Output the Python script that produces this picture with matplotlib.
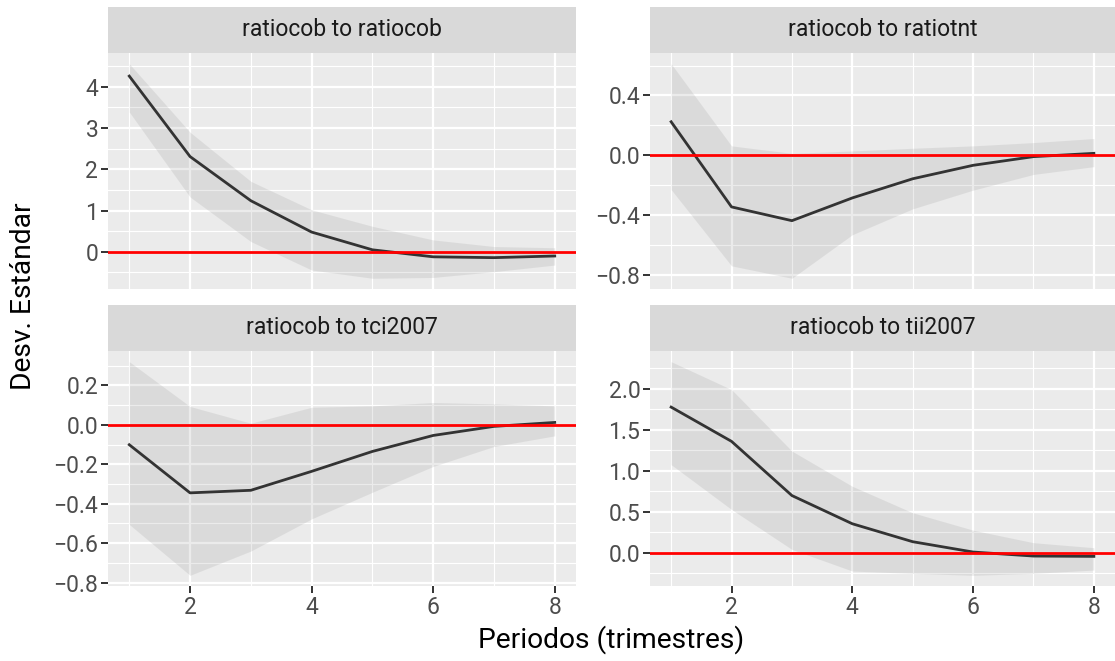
import numpy as np
import matplotlib.pyplot as plt
from matplotlib.ticker import FixedLocator

plt.rcParams['font.family'] = ['Roboto', 'DejaVu Sans']

periodos = [1, 2, 3, 4, 5, 6, 7, 8]
titulos = ['ratiocob to ratiocob', 'ratiocob to ratiotnt',
           'ratiocob to tci2007', 'ratiocob to tii2007']

# respuesta impulso y bandas
irf_ratiocob = [4.26, 2.31, 1.24, 0.48, 0.05, -0.12, -0.14, -0.10]
up_ratiocob = [4.56, 2.90, 1.71, 1.02, 0.62, 0.29, 0.13, 0.10]
lo_ratiocob = [3.39, 1.33, 0.25, -0.44, -0.64, -0.62, -0.48, -0.32]

irf_ratiotnt = [0.224, -0.345, -0.437, -0.285, -0.157, -0.067, -0.009, 0.013]
up_ratiotnt = [0.612, 0.063, 0.013, 0.029, 0.047, 0.063, 0.085, 0.112]
lo_ratiotnt = [-0.229, -0.739, -0.822, -0.531, -0.358, -0.233, -0.128, -0.076]

irf_tci2007 = [-0.101, -0.345, -0.332, -0.236, -0.135, -0.054, -0.008, 0.012]
up_tci2007 = [0.320, 0.093, 0.008, 0.089, 0.096, 0.113, 0.106, 0.096]
lo_tci2007 = [-0.505, -0.763, -0.640, -0.477, -0.342, -0.211, -0.110, -0.056]

irf_tii2007 = [1.776, 1.358, 0.697, 0.353, 0.134, 0.008, -0.041, -0.045]
up_tii2007 = [2.33, 1.99, 1.24, 0.81, 0.487, 0.275, 0.122, 0.061]
lo_tii2007 = [1.074, 0.527, 0.040, -0.224, -0.252, -0.276, -0.252, -0.212]

yticks_ratiocob = [0, 1, 2, 3, 4]
yticks_ratiotnt = [-0.8, -0.4, 0.0, 0.4]
yticks_tci2007 = [-0.8, -0.6, -0.4, -0.2, 0.0, 0.2]
yticks_tii2007 = [0.0, 0.5, 1.0, 1.5, 2.0]

series = [
    (irf_ratiocob, lo_ratiocob, up_ratiocob, yticks_ratiocob, '{:.0f}'),
    (irf_ratiotnt, lo_ratiotnt, up_ratiotnt, yticks_ratiotnt, '{:.1f}'),
    (irf_tci2007, lo_tci2007, up_tci2007, yticks_tci2007, '{:.1f}'),
    (irf_tii2007, lo_tii2007, up_tii2007, yticks_tii2007, '{:.1f}'),
]

W, H = 1115, 661
fig = plt.figure(figsize=(W / 100, H / 100), dpi=100)

# posiciones en pixeles: (x0, x1) de columnas, (strip_top, panel_top, panel_bottom) de filas
cols = [(108, 576), (650, 1115)]
rows = [(7, 53, 289), (305, 351, 586)]

x = np.array(periodos)
for i, (irf, lo, up, yt, fmt) in enumerate(series):
    c0, c1 = cols[i % 2]
    s0, p0, p1 = rows[i // 2]

    ax = fig.add_axes([c0 / W, 1 - p1 / H, (c1 - c0) / W, (p1 - p0) / H])
    ax.set_facecolor('#EBEBEB')
    for sp in ax.spines.values():
        sp.set_visible(False)

    ax.fill_between(x, lo, up, color='#7F7F7F', alpha=0.15, lw=0, zorder=2)
    ax.plot(x, irf, color='#333333', lw=2.0, zorder=3)
    ax.axhline(0, color='red', lw=2.0, zorder=4)

    ymin = min(lo)
    ymax = max(up)
    r = ymax - ymin
    ax.set_ylim(ymin - 0.05 * r, ymax + 0.05 * r)
    ax.set_xlim(1 - 0.35, 8 + 0.35)

    ax.set_xticks([2, 4, 6, 8])
    ax.xaxis.set_minor_locator(FixedLocator([1, 3, 5, 7]))
    step = yt[1] - yt[0]
    ax.set_yticks(yt)
    ax.set_yticklabels([fmt.format(v).replace('-', '\u2212') for v in yt])
    minors = [yt[0] - step / 2] + [v + step / 2 for v in yt]
    ax.yaxis.set_minor_locator(FixedLocator(minors))

    ax.grid(which='major', color='white', lw=1.6, zorder=1)
    ax.grid(which='minor', color='white', lw=0.8, zorder=1)
    ax.set_axisbelow(True)

    ax.tick_params(which='major', length=5, width=1.4, color='#333333',
                   labelsize=16.5, labelcolor='#4D4D4D', pad=2)
    ax.tick_params(which='minor', length=0)
    if i // 2 == 0:
        ax.tick_params(axis='x', which='major', length=0, labelbottom=False)

    sax = fig.add_axes([c0 / W, 1 - p0 / H, (c1 - c0) / W, (p0 - s0) / H])
    sax.set_facecolor('#D9D9D9')
    sax.set_xticks([])
    sax.set_yticks([])
    for sp in sax.spines.values():
        sp.set_visible(False)
    sax.text(0.5, 0.5, titulos[i], ha='center', va='center',
             fontsize=16.5, color='#1A1A1A', transform=sax.transAxes)

fig.text(611 / W, 1 - 640 / H, 'Periodos (trimestres)', ha='center', va='center',
         fontsize=20.3, color='black')
fig.text(24 / W, 1 - 296 / H, 'Desv. Estándar', ha='center', va='center',
         rotation=90, fontsize=20.3, color='black')

fig.savefig('out.png', dpi=100)
